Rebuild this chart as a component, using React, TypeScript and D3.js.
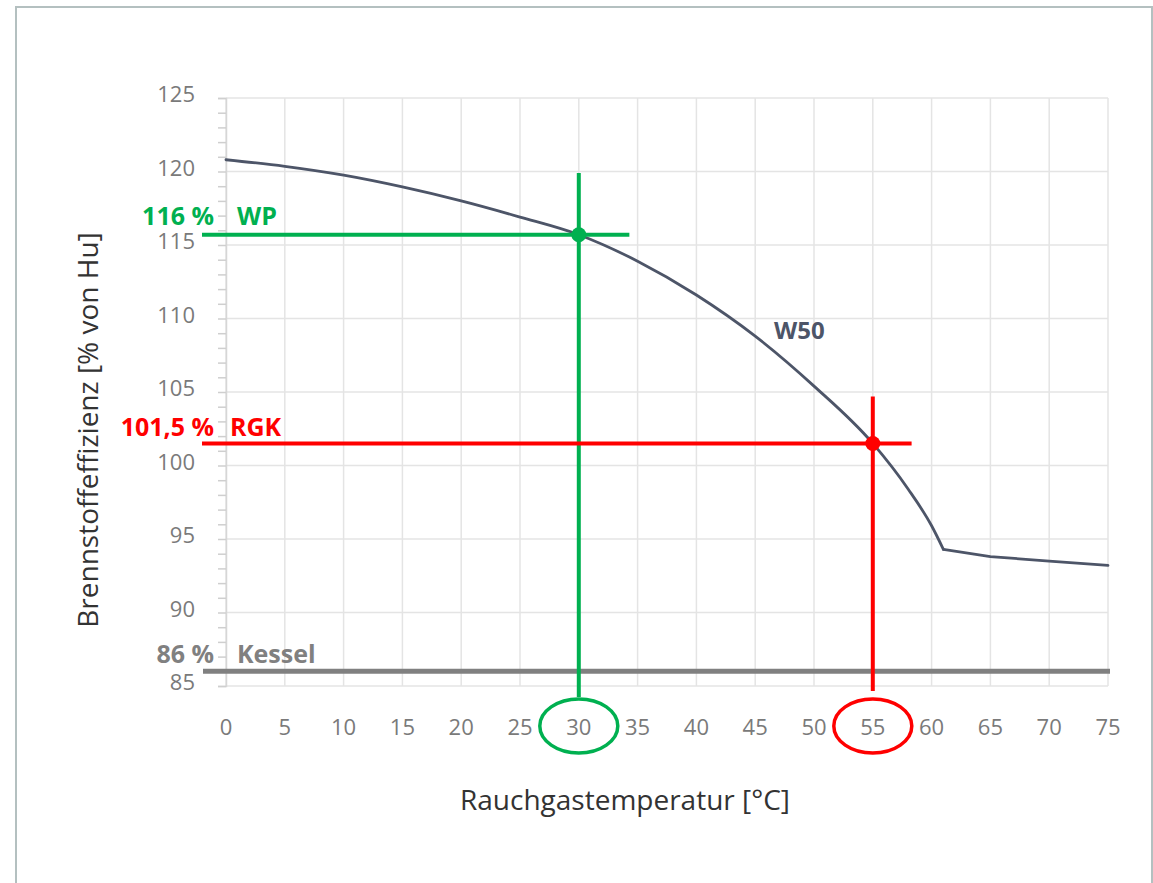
import React, { useEffect, useRef } from "react";
import * as d3 from "d3";

// W50 curve (knee at 61 °C)
const temps = [0, 5, 10, 15, 20, 25, 30, 35, 40, 45, 50, 55, 58, 60, 61, 65, 70, 75];
const efficiency = [120.8, 120.35, 119.75, 118.95, 118.0, 116.9, 115.7, 113.9, 111.6, 108.8, 105.4, 101.5, 98.4, 95.9, 94.3, 93.8, 93.5, 93.2];
const kneeTemp = 61;

const xTicks = [0, 5, 10, 15, 20, 25, 30, 35, 40, 45, 50, 55, 60, 65, 70, 75];
const yTicks = [85, 90, 95, 100, 105, 110, 115, 120, 125];

// marked points
const wpPoint = { x: 30, y: 115.7, label: "116 %", name: "WP" };
const rgkPoint = { x: 55, y: 101.5, label: "101,5 %", name: "RGK" };
const kessel = { y: 86, label: "86 %", name: "Kessel" };

const App = () => {
  const chartRef = useRef<SVGSVGElement | null>(null);

  useEffect(() => {
    const margin = { top: 98, left: 226 };
    const width = 882;
    const height = 588;

    const root = d3.select(chartRef.current);
    root.selectAll("*").remove();

    // outer frame
    root
      .append("rect")
      .attr("x", 16)
      .attr("y", 7)
      .attr("width", 1136)
      .attr("height", 880)
      .attr("fill", "#fff")
      .attr("stroke", "#b4c0c0")
      .attr("stroke-width", 2);

    const svg = root.append("g").attr("transform", `translate(${margin.left},${margin.top})`);

    const x = d3.scaleLinear().domain([0, 75]).range([0, width]);
    const y = d3.scaleLinear().domain([85, 125]).range([height, 0]);

    const font = "'Open Sans', 'Noto Sans', sans-serif";

    // grid
    svg
      .selectAll(".vgrid")
      .data(xTicks)
      .enter()
      .append("line")
      .attr("x1", (d) => x(d))
      .attr("x2", (d) => x(d))
      .attr("y1", 0)
      .attr("y2", height)
      .attr("stroke", "#e4e4e4")
      .attr("stroke-width", 1.5);

    svg
      .selectAll(".hgrid")
      .data(yTicks)
      .enter()
      .append("line")
      .attr("x1", 0)
      .attr("x2", width)
      .attr("y1", (d) => y(d))
      .attr("y2", (d) => y(d))
      .attr("stroke", "#e4e4e4")
      .attr("stroke-width", 1.5);

    // y axis with minor ticks
    svg
      .append("g")
      .call(
        d3
          .axisLeft(y)
          .tickValues(d3.range(85, 126, 1))
          .tickSize(8)
          .tickFormat(() => "")
      )
      .call((g) => g.selectAll("line").attr("stroke", "#cfcfcf").attr("stroke-width", 1.5))
      .call((g) => g.select(".domain").attr("stroke", "#d6d6d6").attr("stroke-width", 1.5));

    svg
      .selectAll(".ylab")
      .data(yTicks)
      .enter()
      .append("text")
      .attr("x", -31)
      .attr("y", (d) => y(d) + 4)
      .attr("text-anchor", "end")
      .attr("font-family", font)
      .attr("font-size", 22)
      .attr("fill", "#7a7a7a")
      .text((d) => d);

    svg
      .selectAll(".xlab")
      .data(xTicks)
      .enter()
      .append("text")
      .attr("x", (d) => x(d))
      .attr("y", height + 49)
      .attr("text-anchor", "middle")
      .attr("font-family", font)
      .attr("font-size", 22)
      .attr("fill", "#7a7a7a")
      .text((d) => d);

    // axis titles
    svg
      .append("text")
      .attr("x", width / 2 - 42)
      .attr("y", height + 124)
      .attr("text-anchor", "middle")
      .attr("font-family", font)
      .attr("font-size", 28)
      .attr("fill", "#333")
      .text("Rauchgastemperatur [°C]");

    svg
      .append("text")
      .attr("transform", "rotate(-90)")
      .attr("x", -332)
      .attr("y", -128)
      .attr("text-anchor", "middle")
      .attr("font-family", font)
      .attr("font-size", 28)
      .attr("fill", "#333")
      .text("Brennstoffeffizienz [% von Hu]");

    // Kessel line
    svg
      .append("line")
      .attr("x1", -23)
      .attr("x2", width + 2)
      .attr("y1", y(kessel.y))
      .attr("y2", y(kessel.y))
      .attr("stroke", "#808080")
      .attr("stroke-width", 5);

    // W50 curve: smooth up to the knee, straight after it
    const pts = temps.map((t, i) => [t, efficiency[i]] as [number, number]);
    const smooth = d3
      .line<[number, number]>()
      .x((d) => x(d[0]))
      .y((d) => y(d[1]))
      .curve(d3.curveMonotoneX);
    const straight = d3
      .line<[number, number]>()
      .x((d) => x(d[0]))
      .y((d) => y(d[1]));

    svg
      .append("path")
      .datum(pts.filter((d) => d[0] <= kneeTemp))
      .attr("fill", "none")
      .attr("stroke", "#4d5568")
      .attr("stroke-width", 2.8)
      .attr("stroke-linecap", "round")
      .attr("d", smooth);

    svg
      .append("path")
      .datum(pts.filter((d) => d[0] >= kneeTemp))
      .attr("fill", "none")
      .attr("stroke", "#4d5568")
      .attr("stroke-width", 2.8)
      .attr("stroke-linecap", "round")
      .attr("d", straight);

    svg
      .append("text")
      .attr("x", x(46.6))
      .attr("y", y(108.6))
      .attr("font-family", font)
      .attr("font-weight", "bold")
      .attr("font-size", 24)
      .attr("fill", "#4d5568")
      .text("W50");

    // marker lines
    const marker = (p: typeof wpPoint, color: string, top: number, right: number) => {
      svg
        .append("line")
        .attr("x1", x(p.x))
        .attr("x2", x(p.x))
        .attr("y1", y(top))
        .attr("y2", height + (p.x === 30 ? 11 : 5))
        .attr("stroke", color)
        .attr("stroke-width", 4);
      svg
        .append("line")
        .attr("x1", -24)
        .attr("x2", x(right))
        .attr("y1", y(p.y))
        .attr("y2", y(p.y))
        .attr("stroke", color)
        .attr("stroke-width", 4);
      svg
        .append("circle")
        .attr("cx", x(p.x))
        .attr("cy", y(p.y))
        .attr("r", 7.5)
        .attr("fill", color);
      svg
        .append("ellipse")
        .attr("cx", x(p.x))
        .attr("cy", height + 40)
        .attr("rx", 39)
        .attr("ry", 27)
        .attr("fill", "none")
        .attr("stroke", color)
        .attr("stroke-width", 3.5);
    };

    marker(wpPoint, "#00b050", 119.9, 34.3);
    marker(rgkPoint, "#ff0000", 104.7, 58.3);

    // labels left of the axis
    const labels = [
      { ...wpPoint, color: "#00b050", dx: 11, dy: -10 },
      { ...rgkPoint, color: "#ff0000", dx: 4, dy: -7 },
      { x: 0, y: kessel.y, label: kessel.label, name: kessel.name, color: "#808080", dx: 11, dy: -8 },
    ];
    labels.forEach((l) => {
      svg
        .append("text")
        .attr("x", -12)
        .attr("y", y(l.y) + l.dy)
        .attr("text-anchor", "end")
        .attr("font-family", font)
        .attr("font-weight", "bold")
        .attr("font-size", 25)
        .attr("fill", l.color)
        .text(l.label);
      svg
        .append("text")
        .attr("x", l.dx)
        .attr("y", y(l.y) + l.dy)
        .attr("font-family", font)
        .attr("font-weight", "bold")
        .attr("font-size", 25)
        .attr("fill", l.color)
        .text(l.name);
    });
  }, []);

  return (
    <svg
      ref={chartRef}
      width={1153}
      height={883}
      style={{ position: "absolute", left: 0, top: 0, background: "#fff" }}
    />
  );
};

export default App;
